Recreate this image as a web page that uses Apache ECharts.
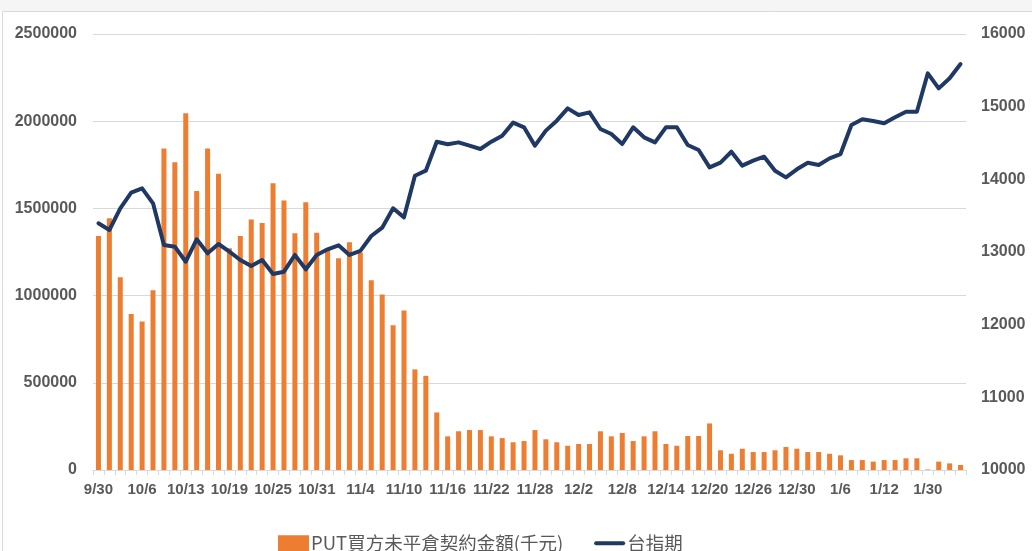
<!DOCTYPE html>
<html>
<head>
<meta charset="utf-8">
<script src="https://cdn.jsdelivr.net/npm/echarts@6/dist/echarts.min.js"></script>
<style>
  html, body { margin: 0; padding: 0; background: #fff; }
  #main { width: 1032px; height: 551px; }
</style>
</head>
<body>
<div id="main"></div>
<script>
// 日期 (每4個交易日顯示一個標籤)
const dates = [
  '9/30', '10/1', '10/4', '10/5',
  '10/6', '10/7', '10/8', '10/12',
  '10/13', '10/14', '10/15', '10/18',
  '10/19', '10/20', '10/21', '10/22',
  '10/25', '10/26', '10/27', '10/28',
  '10/31', '11/1', '11/2', '11/3',
  '11/4', '11/5', '11/8', '11/9',
  '11/10', '11/11', '11/12', '11/15',
  '11/16', '11/17', '11/18', '11/19',
  '11/22', '11/23', '11/24', '11/25',
  '11/28', '11/29', '11/30', '12/1',
  '12/2', '12/3', '12/6', '12/7',
  '12/8', '12/9', '12/10', '12/13',
  '12/14', '12/15', '12/16', '12/17',
  '12/20', '12/21', '12/22', '12/23',
  '12/26', '12/27', '12/28', '12/29',
  '12/30', '1/3', '1/4', '1/5',
  '1/6', '1/7', '1/10', '1/11',
  '1/12', '1/13', '1/17', '1/24',
  '1/30', '2/7', '2/8', '2/9'
];

// PUT買方未平倉契約金額(千元)
const putAmount = [
  1342000, 1443000, 1105000, 895000, 851000, 1031000, 1844000, 1764000,
  2046000, 1600000, 1844000, 1699000, 1271000, 1342000, 1436000, 1416000,
  1644000, 1545000, 1357000, 1535000, 1361000, 1262000, 1214000, 1306000,
  1245000, 1088000, 1006000, 830000, 915000, 577000, 540000, 330000,
  193000, 222000, 229000, 229000, 193000, 183000, 159000, 166000,
  229000, 176000, 159000, 139000, 149000, 149000, 222000, 193000,
  212000, 166000, 193000, 222000, 149000, 139000, 195000, 195000,
  267000, 113000, 93000, 122000, 103000, 103000, 113000, 132000,
  122000, 103000, 103000, 93000, 84000, 57000, 57000, 48000,
  57000, 57000, 67000, 67000, 3000, 48000, 38000, 29000
];

// 台指期
const taiex = [
  13395, 13303, 13601, 13816, 13876, 13670, 13096, 13073,
  12866, 13175, 12982, 13110, 13004, 12890, 12807, 12890,
  12697, 12729, 12959, 12762, 12959, 13037, 13092, 12959,
  13015, 13220, 13335, 13601, 13477, 14050, 14119, 14518,
  14482, 14509, 14463, 14417, 14518, 14601, 14780, 14716,
  14463, 14670, 14807, 14977, 14885, 14922, 14693, 14624,
  14486, 14716, 14578, 14509, 14716, 14716, 14472, 14403,
  14165, 14229, 14380, 14188, 14257, 14312, 14119, 14027,
  14138, 14229, 14197, 14289, 14348, 14748, 14826, 14803,
  14771, 14854, 14931, 14931, 15459, 15252, 15390, 15587
];

const labelColor = '#595959';
const gridColor = '#D9D9D9';
const lineColor = '#1F3864';

const axisFont = { color: labelColor, fontSize: 16, fontWeight: 'bold', fontFamily: 'Liberation Sans' };

const myChart = echarts.init(document.getElementById('main'));
const option = {
  animation: false,
  backgroundColor: '#fff',
  // 外框 (Excel 圖表區)
  graphic: [
    { type: 'rect', shape: { x: 0, y: 0, width: 1032, height: 11 }, style: { fill: '#f5f5f5' }, silent: true },
    { type: 'rect', shape: { x: 2.5, y: 11.5, width: 1040, height: 560 }, style: { fill: 'none', stroke: '#D9D9D9', lineWidth: 1 }, silent: true }
  ],
  grid: { left: 93, right: 66, top: 34, bottom: 81 },
  legend: {
    left: 273,
    top: 529,
    itemWidth: 31,
    itemHeight: 16,
    itemGap: 31,
    textStyle: { color: labelColor, fontSize: 18.5, fontFamily: 'Noto Sans CJK TC', padding: [0, 0, 0, -3] },
    data: [
      { name: 'PUT買方未平倉契約金額(千元)', icon: 'rect' },
      { name: '台指期', icon: 'path://M2,0 L60,0 A4,4 0 0 1 60,8 L2,8 A4,4 0 0 1 2,0 Z', itemStyle: { color: lineColor } }
    ]
  },
  xAxis: {
    type: 'category',
    data: dates,
    boundaryGap: true,
    axisLine: { lineStyle: { color: gridColor, width: 1 } },
    axisTick: { show: true, interval: 0, length: 5, lineStyle: { color: gridColor } },
    axisLabel: Object.assign({ interval: 3, margin: 12 }, axisFont, { fontSize: 15 })
  },
  yAxis: [
    {
      type: 'value',
      min: 0,
      max: 2500000,
      interval: 500000,
      axisLine: { show: false },
      axisTick: { show: false },
      splitLine: { lineStyle: { color: gridColor, width: 1 } },
      axisLabel: Object.assign({ margin: 16, formatter: v => String(v) }, axisFont)
    },
    {
      type: 'value',
      min: 10000,
      max: 16000,
      interval: 1000,
      axisLine: { show: false },
      axisTick: { show: false },
      splitLine: { show: false },
      axisLabel: Object.assign({ margin: 15, formatter: v => String(v) }, axisFont)
    }
  ],
  series: [
    {
      name: 'PUT買方未平倉契約金額(千元)',
      type: 'bar',
      data: putAmount,
      barWidth: 5,
      itemStyle: { color: '#ED7D31' }
    },
    {
      name: '台指期',
      type: 'line',
      yAxisIndex: 1,
      data: taiex,
      symbol: 'none',
      lineStyle: { color: lineColor, width: 4, join: 'round', cap: 'round' },
      itemStyle: { color: lineColor }
    }
  ]
};
myChart.setOption(option);
</script>
</body>
</html>
